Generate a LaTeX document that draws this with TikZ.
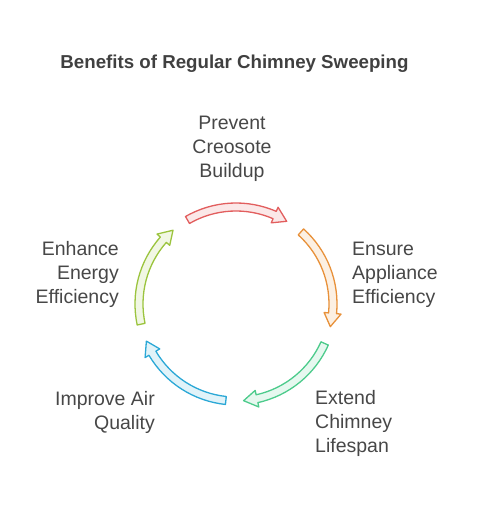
\documentclass[tikz,border=0pt]{standalone}
\usepackage{fontspec}
\setmainfont{Liberation Sans}
\usetikzlibrary{positioning}

\definecolor{sweepRed}{HTML}{E25E5E}
\definecolor{sweepOrange}{HTML}{E8913A}
\definecolor{sweepGreen}{HTML}{4DCB8C}
\definecolor{sweepBlue}{HTML}{2BA8D6}
\definecolor{sweepLime}{HTML}{9BC43E}
\definecolor{labelGray}{HTML}{474747}

\begin{document}
\begin{tikzpicture}[x=1pt,y=1pt]
		\tikzset{label text/.style={inner sep=0pt, text=labelGray, font=\fontsize{19.5}{24}\selectfont}}
		\tikzset{arrowband/.style={line width=1.3pt, line join=round}}
		\useasboundingbox (0,0) rectangle (482,506);
		%title
		\node[inner sep=0pt, text=labelGray!90!black, font=\fontsize{18.7}{22}\selectfont\bfseries] (title) at (234.5,442) {Benefits of Regular Chimney Sweeping};
		%arrows
		\begin{scope}[shift={(236,202)}]
			\foreach \mid/\col in {90/sweepRed,18/sweepOrange,-54/sweepGreen,-126/sweepBlue,-198/sweepLime}{
				\pgfmathsetmacro{\startA}{\mid+30}
				\pgfmathsetmacro{\tipA}{\mid-31.5}
				\pgfmathsetmacro{\headA}{\mid-31.5+8}
				\draw[arrowband, draw=\col, fill=\col!14]
					(\startA:101) arc[start angle=\startA, end angle=\headA, radius=101]
					-- (\headA:105.5) -- (\tipA:97) -- (\headA:88.5) -- (\headA:93)
					arc[start angle=\headA, end angle=\startA, radius=93] -- cycle;
			}
		\end{scope}
		%labels
		\node[label text, align=center] (prevent) at (232,357.5) {Prevent\\Creosote\\Buildup};
		\node[label text, align=left, anchor=west] (ensure) at (352,231.5) {Ensure\\Appliance\\Efficiency};
		\node[label text, align=left, anchor=west] (extend) at (315,82.5) {Extend\\Chimney\\Lifespan};
		\node[label text, align=right, anchor=east] (improve) at (155,93.5) {Improve Air\\Quality};
		\node[label text, align=right, anchor=east] (enhance) at (119,231.5) {Enhance\\Energy\\Efficiency};
\end{tikzpicture}
\end{document}
